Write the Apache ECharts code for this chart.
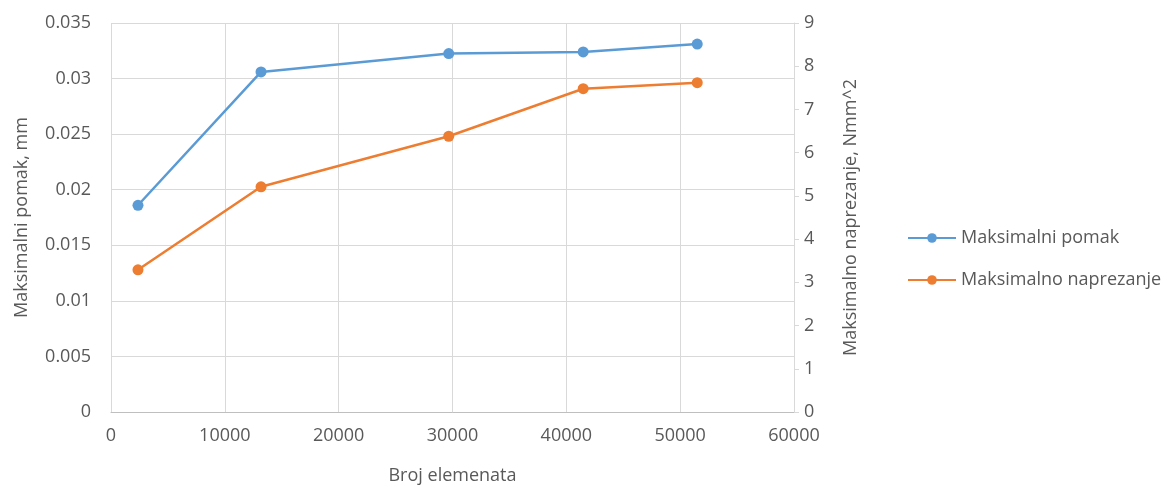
<!DOCTYPE html>
<html>
<head>
<meta charset="utf-8">
<script src="https://cdn.jsdelivr.net/npm/echarts@6/dist/echarts.min.js"></script>
<style>
  html, body { margin: 0; padding: 0; background: #fff; }
  #main { width: 1175px; height: 490px; }
</style>
</head>
<body>
<div id="main"></div>
<script>
var brojElemenata = [2370, 13180, 29670, 41480, 51500];
var pomak = [0.0186, 0.0306, 0.03225, 0.0324, 0.0331];
var naprezanje = [3.29, 5.21, 6.38, 7.48, 7.62];

var textColor = "#595959";
var gridColor = "#d9d9d9";
var font = "Open Sans";
var fs = 18;

function pairs(xs, ys) {
  var out = [];
  for (var i = 0; i < xs.length; i++) {
    out.push([xs[i], ys[i]]);
  }
  return out;
}

var myChart = echarts.init(document.getElementById("main"));

var option = {
  animation: false,
  color: ["#5B9BD5", "#ED7D31"],
  textStyle: { fontFamily: font },
  grid: {
    left: 111,
    right: 381,
    top: 23,
    bottom: 78,
    containLabel: false,
    outerBoundsMode: "none",
  },
  legend: {
    orient: "vertical",
    left: 902,
    top: 224,
    itemWidth: 48,
    itemHeight: 12,
    itemGap: 24,
    textStyle: { color: textColor, fontSize: fs, fontFamily: font },
    data: ["Maksimalni pomak", "Maksimalno naprezanje"],
  },
  xAxis: {
    type: "value",
    min: 0,
    max: 60000,
    interval: 10000,
    name: "Broj elemenata",
    nameLocation: "middle",
    nameGap: 55,
    nameTextStyle: { color: textColor, fontSize: fs },
    axisLine: { show: true, lineStyle: { color: "#bfbfbf" } },
    axisTick: { show: false },
    axisLabel: {
      color: textColor,
      fontSize: fs,
      margin: 15,
      formatter: function (v) { return String(v); },
    },
    splitLine: { show: true, lineStyle: { color: gridColor } },
  },
  yAxis: [
    {
      type: "value",
      min: 0,
      max: 0.035,
      interval: 0.005,
      name: "Maksimalni pomak, mm",
      nameLocation: "middle",
      nameGap: 80,
      nameTextStyle: { color: textColor, fontSize: fs },
      axisLine: { show: false },
      axisTick: { show: false },
      axisLabel: { color: textColor, fontSize: fs, margin: 20 },
      splitLine: { show: true, lineStyle: { color: gridColor } },
    },
    {
      type: "value",
      min: 0,
      max: 9,
      interval: 1,
      position: "right",
      name: "Maksimalno naprezanje, Nmm^2",
      nameLocation: "middle",
      nameGap: 48,
      nameTextStyle: { color: textColor, fontSize: fs },
      axisLine: { show: true, lineStyle: { color: gridColor } },
      axisTick: { show: true, length: 5, lineStyle: { color: gridColor } },
      axisLabel: { color: textColor, fontSize: fs, margin: 10 },
      splitLine: { show: false },
    },
  ],
  series: [
    {
      name: "Maksimalni pomak",
      type: "line",
      yAxisIndex: 0,
      data: pairs(brojElemenata, pomak),
      symbol: "circle",
      symbolSize: 11,
      lineStyle: { width: 2.5 },
    },
    {
      name: "Maksimalno naprezanje",
      type: "line",
      yAxisIndex: 1,
      data: pairs(brojElemenata, naprezanje),
      symbol: "circle",
      symbolSize: 11,
      lineStyle: { width: 2.5 },
    },
  ],
};

myChart.setOption(option);
</script>
</body>
</html>
